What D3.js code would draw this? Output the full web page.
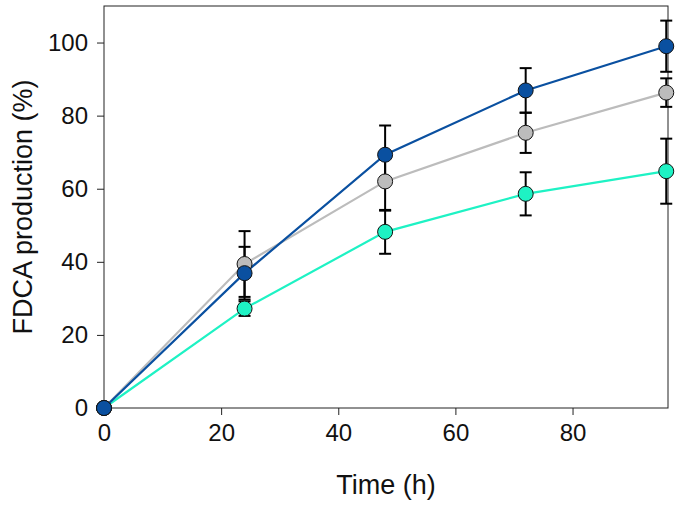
<!DOCTYPE html>
<html><head><meta charset="utf-8">
<script src="https://cdn.jsdelivr.net/npm/d3@7"></script>
<style>body{margin:0;background:#fff}svg{display:block}text{font-family:"Liberation Sans",Arial,sans-serif;fill:#111}</style>
</head><body>
<script>
const times = [0, 24, 48, 72, 96];
const seriesNames = ["cyan", "gray", "blue"];
const cyanValues = [0, 27.2, 48.2, 58.6, 64.8];
const cyanErrors = [0, 2.0, 6.0, 5.9, 8.9];
const grayValues = [0, 39.4, 62.0, 75.3, 86.3];
const grayErrors = [0, 9.0, 8.0, 5.5, 3.9];
const blueValues = [0, 36.9, 69.3, 86.9, 99.0];
const blueErrors = [0, 7.2, 8.0, 6.1, 7.0];
const xTicks = [0, 20, 40, 60, 80];
const yTicks = [0, 20, 40, 60, 80, 100];
const colors = {cyan: "#1ef2c4", gray: "#bcbcbc", blue: "#0a50a0"};

const W = 680, H = 507;
const m = {left: 104, right: 12, top: 6, bottom: 99};
const svg = d3.select("body").append("svg").attr("width", W).attr("height", H);
const x = d3.scaleLinear().domain([0, 96.3]).range([m.left, W - m.right]);
const y = d3.scaleLinear().domain([0, 110]).range([H - m.bottom, m.top]);

const series = [
  {name: "cyan", values: cyanValues, errors: cyanErrors},
  {name: "gray", values: grayValues, errors: grayErrors},
  {name: "blue", values: blueValues, errors: blueErrors}
];

// frame
svg.append("rect").attr("x", m.left).attr("y", m.top)
  .attr("width", W - m.right - m.left).attr("height", H - m.bottom - m.top)
  .attr("fill", "none").attr("stroke", "#222").attr("stroke-width", 1);

const xa = svg.append("g").attr("transform", `translate(0,${H - m.bottom})`)
  .call(d3.axisBottom(x).tickValues(xTicks).tickSize(7).tickPadding(9).tickFormat(d3.format("d")));
const ya = svg.append("g").attr("transform", `translate(${m.left},0)`)
  .call(d3.axisLeft(y).tickValues(yTicks).tickSize(7).tickPadding(9).tickFormat(d3.format("d")));
[xa, ya].forEach(a => {
  a.select(".domain").remove();
  a.selectAll("line").attr("stroke", "#222");
  a.selectAll("text").style("font-size", "24px").style("font-family", '"Liberation Sans",Arial,sans-serif').attr("fill", "#111");
});

const line = d3.line().x((d, i) => x(times[i])).y(d => y(d));
series.forEach(s => {
  svg.append("path").datum(s.values).attr("d", line)
    .attr("fill", "none").attr("stroke", colors[s.name]).attr("stroke-width", 2.2);
});

// error bars
series.forEach(s => {
  const g = svg.append("g").attr("stroke", "#000").attr("stroke-width", 2);
  s.values.forEach((v, i) => {
    const e = s.errors[i];
    if (!e) return;
    const cx = x(times[i]);
    g.append("line").attr("x1", cx).attr("x2", cx).attr("y1", y(v - e)).attr("y2", y(v + e));
    g.append("line").attr("x1", cx - 6).attr("x2", cx + 6).attr("y1", y(v - e)).attr("y2", y(v - e));
    g.append("line").attr("x1", cx - 6).attr("x2", cx + 6).attr("y1", y(v + e)).attr("y2", y(v + e));
  });
});

// markers
series.forEach(s => {
  svg.append("g").selectAll("circle").data(s.values).join("circle")
    .attr("cx", (d, i) => x(times[i])).attr("cy", d => y(d)).attr("r", 7.5)
    .attr("fill", colors[s.name]).attr("stroke", "#111").attr("stroke-width", 1);
});

svg.append("text").attr("x", (m.left + W - m.right) / 2).attr("y", 494)
  .attr("text-anchor", "middle").style("font-size", "27px").text("Time (h)");
svg.append("text").attr("transform", `translate(32,${(m.top + H - m.bottom) / 2}) rotate(-90)`)
  .attr("text-anchor", "middle").style("font-size", "27px").text("FDCA production (%)");
</script>
</body></html>
